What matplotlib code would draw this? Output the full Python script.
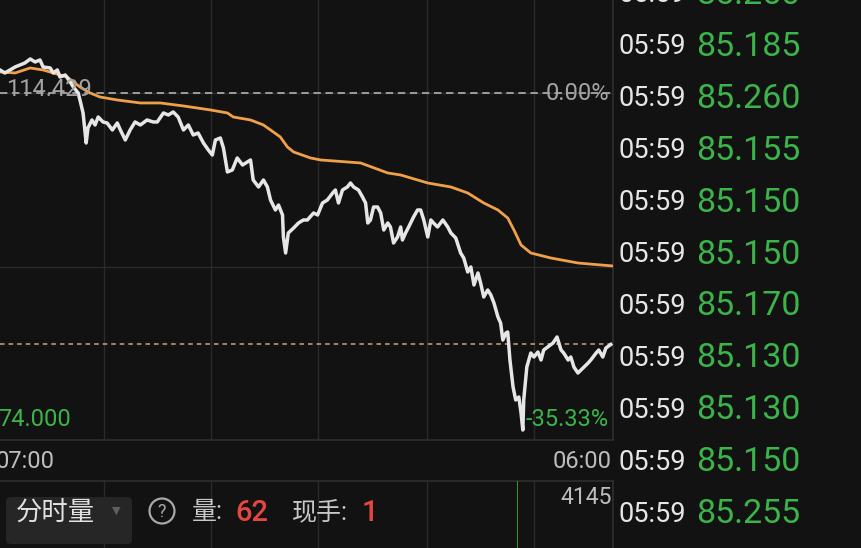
import matplotlib
matplotlib.use("Agg")
import matplotlib.pyplot as plt
from matplotlib.patches import FancyBboxPatch, Circle

# price line (minutes since 07:00, price)
time_min = [0, 11, 34, 56, 68, 79, 90, 97, 113, 120, 129, 135, 147, 158, 165, 176, 180, 187, 194, 198,
            207, 214, 221, 232, 241, 253, 264, 271, 282, 293, 304, 316, 331, 345, 354, 368, 379, 390, 401, 413,
            424, 435, 446, 458, 469, 478, 485, 496, 503, 512, 523, 534, 546, 557, 564, 570, 582, 593, 602, 609,
            620, 627, 636, 638, 643, 649, 661, 672, 683, 692, 706, 715, 726, 737, 749, 755, 762, 771, 782, 789,
            796, 807, 816, 823, 828, 834, 841, 850, 857, 864, 873, 879, 886, 895, 902, 906, 913, 920, 931, 940,
            947, 954, 963, 970, 976, 985, 997, 1008, 1015, 1026, 1037, 1044, 1053, 1060, 1067, 1076, 1082, 1089, 1098, 1105,
            1112, 1121, 1127, 1132, 1139, 1143, 1148, 1155, 1161, 1168, 1173, 1177, 1179, 1186, 1195, 1202, 1211, 1218, 1224, 1233,
            1245, 1254, 1263, 1269, 1279, 1285, 1292, 1301, 1308, 1315, 1324, 1330, 1342, 1348, 1357, 1364, 1375]
price = [117.109, 116.759, 117.458, 117.924, 118.390, 118.041, 118.274, 117.458, 117.342, 116.759,
         117.109, 116.293, 116.526, 115.711, 115.128, 114.429, 113.613, 112.099, 108.603, 110.351,
         111.283, 110.701, 111.633, 111.050, 110.934, 110.118, 110.934, 110.118, 108.953, 110.118,
         111.050, 110.701, 111.283, 111.050, 111.050, 112.099, 111.866, 112.215, 111.633, 110.118,
         110.701, 109.536, 109.769, 108.603, 107.788, 107.205, 108.953, 109.186, 108.021, 105.225,
         105.458, 106.856, 106.040, 106.390, 106.623, 104.293, 103.477, 104.293, 103.477, 101.962,
         100.797, 101.380, 100.215, 97.652, 95.787, 98.118, 98.700, 99.283, 99.632, 99.632,
         100.448, 100.215, 101.613, 101.962, 102.778, 103.128, 101.613, 103.128, 103.477, 103.943,
         103.477, 103.128, 102.312, 101.613, 99.283, 99.632, 101.147, 101.147, 100.448, 98.467,
         99.283, 98.817, 96.952, 97.652, 98.817, 97.302, 98.118, 98.817, 99.982, 100.797,
         100.797, 99.632, 97.652, 99.632, 99.283, 98.817, 99.632, 98.817, 98.118, 97.535,
         95.787, 95.205, 93.574, 94.156, 92.059, 93.457, 92.292, 90.661, 91.477, 90.894,
         89.962, 88.331, 87.632, 85.651, 86.467, 86.583, 83.321, 80.175, 78.660, 79.010,
         77.146, 75.165, 78.660, 82.505, 84.136, 83.670, 84.253, 83.321, 84.486, 84.835,
         85.301, 86.001, 84.486, 84.136, 83.321, 83.670, 82.505, 81.806, 82.156, 82.505,
         82.971, 83.321, 84.136, 84.486, 83.670, 84.719, 85.130]

# average price line
avg_min = [0, 34, 68, 97, 120, 151, 180, 203, 225, 264, 316, 361, 413, 474, 512, 525, 564, 593, 609, 631,
           647, 661, 699, 722, 812, 873, 902, 963, 1015, 1053, 1089, 1121, 1143, 1157, 1173, 1195, 1240, 1301, 1353, 1380]
avg_price = [116.876, 116.759, 117.342, 117.109, 116.759, 116.293, 115.128, 114.429, 113.963, 113.613,
             113.264, 113.264, 112.914, 112.448, 112.099, 111.633, 111.283, 110.701, 110.118, 109.303,
             108.137, 107.555, 106.856, 106.623, 106.273, 105.108, 104.875, 103.943, 103.477, 102.778,
             101.613, 100.797, 99.865, 98.467, 96.719, 95.787, 95.205, 94.622, 94.389, 94.273]

prev_close = 114.429
last_price = 85.130
low_label = "74.000"
low_pct = "-35.33%"
zero_pct = "0.00%"
price_grid = [94.21, 114.429]
time_grid = [234, 476, 717, 961, 1202]
time_labels = ["07:00", "06:00"]

# volume panel
vol_min = [1166]
vol = [4145]
vol_max = 4145
cur_vol = "62"
cur_hand = "1"

# trade ticks on the right
tick_times = ["05:59"] * 11
tick_prices = ["85.250", "85.185", "85.260", "85.155", "85.150", "85.150",
               "85.170", "85.130", "85.130", "85.150", "85.255"]

BG = "#121212"
GRID = "#2a2a2a"
GREEN = "#3bb54a"
GRAY = "#a3a3a3"
RED = "#e5473d"

plt.rcParams['font.family'] = ['Roboto', 'Noto Sans CJK SC', 'DejaVu Sans']

W, H = 861, 548
fig = plt.figure(figsize=(W / 100, H / 100), dpi=100, facecolor=BG)

# main chart
ax = fig.add_axes([0, 1 - 440 / H, 613 / W, 440 / H])
ax.set_facecolor(BG)
ax.set_xlim(0, 1380)
ax.set_ylim(74.0, 125.26)
ax.set_xticks(time_grid)
ax.set_yticks(price_grid)
ax.grid(True, color=GRID, lw=1)
ax.tick_params(length=0, labelbottom=False, labelleft=False)
for s in ['top', 'left']:
    ax.spines[s].set_visible(False)
for s in ['right', 'bottom']:
    ax.spines[s].set_color("#2e2e2e")
    ax.spines[s].set_linewidth(1.2)

ax.axhline(prev_close, color="#9c9c9c", lw=1.4, ls=(0, (3.8, 2.4)), zorder=2)
ax.axhline(last_price, color="#c9a67a", lw=1.1, ls=(0, (3, 2.6)), zorder=2)
ax.plot(avg_min, avg_price, color="#f0a048", lw=2.0, zorder=3)
ax.plot(time_min, price, color="#e6e6e6", lw=2.5, zorder=4, solid_joinstyle='round')

# volume panel
vax = fig.add_axes([0, 0, 613 / W, (548 - 481) / H])
vax.set_facecolor(BG)
vax.set_xlim(0, 1380)
vax.set_ylim(0, vol_max)
vax.set_xticks(time_grid)
vax.set_yticks([])
vax.grid(True, axis='x', color=GRID, lw=1)
vax.tick_params(length=0, labelbottom=False, labelleft=False)
for s in ['left', 'bottom']:
    vax.spines[s].set_visible(False)
for s in ['top', 'right']:
    vax.spines[s].set_color("#2e2e2e")
    vax.spines[s].set_linewidth(1.2)
vax.bar(vol_min, vol, width=2.2, color="#1f9a35", zorder=3)

# overlay in pixel units for labels and widgets
ov = fig.add_axes([0, 0, 1, 1])
ov.set_xlim(0, W)
ov.set_ylim(H, 0)
ov.axis('off')

ov.text(6, 90, f"{prev_close:.3f}", color=GRAY, fontsize=17, ha='left', va='center')
ov.text(609, 93, zero_pct, color=GRAY, fontsize=17, ha='right', va='center')
ov.text(-2, 419, low_label, color=GREEN, fontsize=17, ha='left', va='center')
ov.text(609, 420, low_pct, color=GREEN, fontsize=17, ha='right', va='center')

ov.text(-4, 462, time_labels[0], color="#bdbdbd", fontsize=17, ha='left', va='center')
ov.text(612, 462, time_labels[1], color="#bdbdbd", fontsize=17, ha='right', va='center')
ov.text(612, 497, str(vol_max), color="#bdbdbd", fontsize=16.5, ha='right', va='center')

ov.add_patch(FancyBboxPatch((6, 497), 126, 47, boxstyle="round,pad=0,rounding_size=5",
                            fc="#262626", ec='none'))
ov.text(16, 512, "分时量", color="#e2e2e2", fontsize=19, ha='left', va='center',
        family=['Noto Sans CJK SC'])
ov.text(116, 511, "▼", color="#5f5f5f", fontsize=8, ha='center', va='center',
        family=['DejaVu Sans'])
ov.add_patch(Circle((162, 511), 12.5, fill=False, ec="#a8a8a8", lw=1.6))
ov.text(162, 512, "?", color="#a8a8a8", fontsize=13, ha='center', va='center')
ov.text(192, 512, "量:", color="#c8c8c8", fontsize=18, ha='left', va='center')
ov.text(235, 513, cur_vol, color=RED, fontsize=21, ha='left', va='center', fontweight='medium')
ov.text(292, 512, "现手:", color="#c8c8c8", fontsize=18, ha='left', va='center')
ov.text(362, 513, cur_hand, color=RED, fontsize=21, ha='left', va='center', fontweight='medium')

# right side tick list
for i, (t, p) in enumerate(zip(tick_times, tick_prices)):
    yc = -5 + i * 51.9
    ov.text(619, yc, t, color="#e6e6e6", fontsize=19.5, ha='left', va='center')
    ov.text(696, yc, p, color=GREEN, fontsize=24.5, ha='left', va='center')

fig.savefig("out.png", dpi=100, facecolor=BG)
